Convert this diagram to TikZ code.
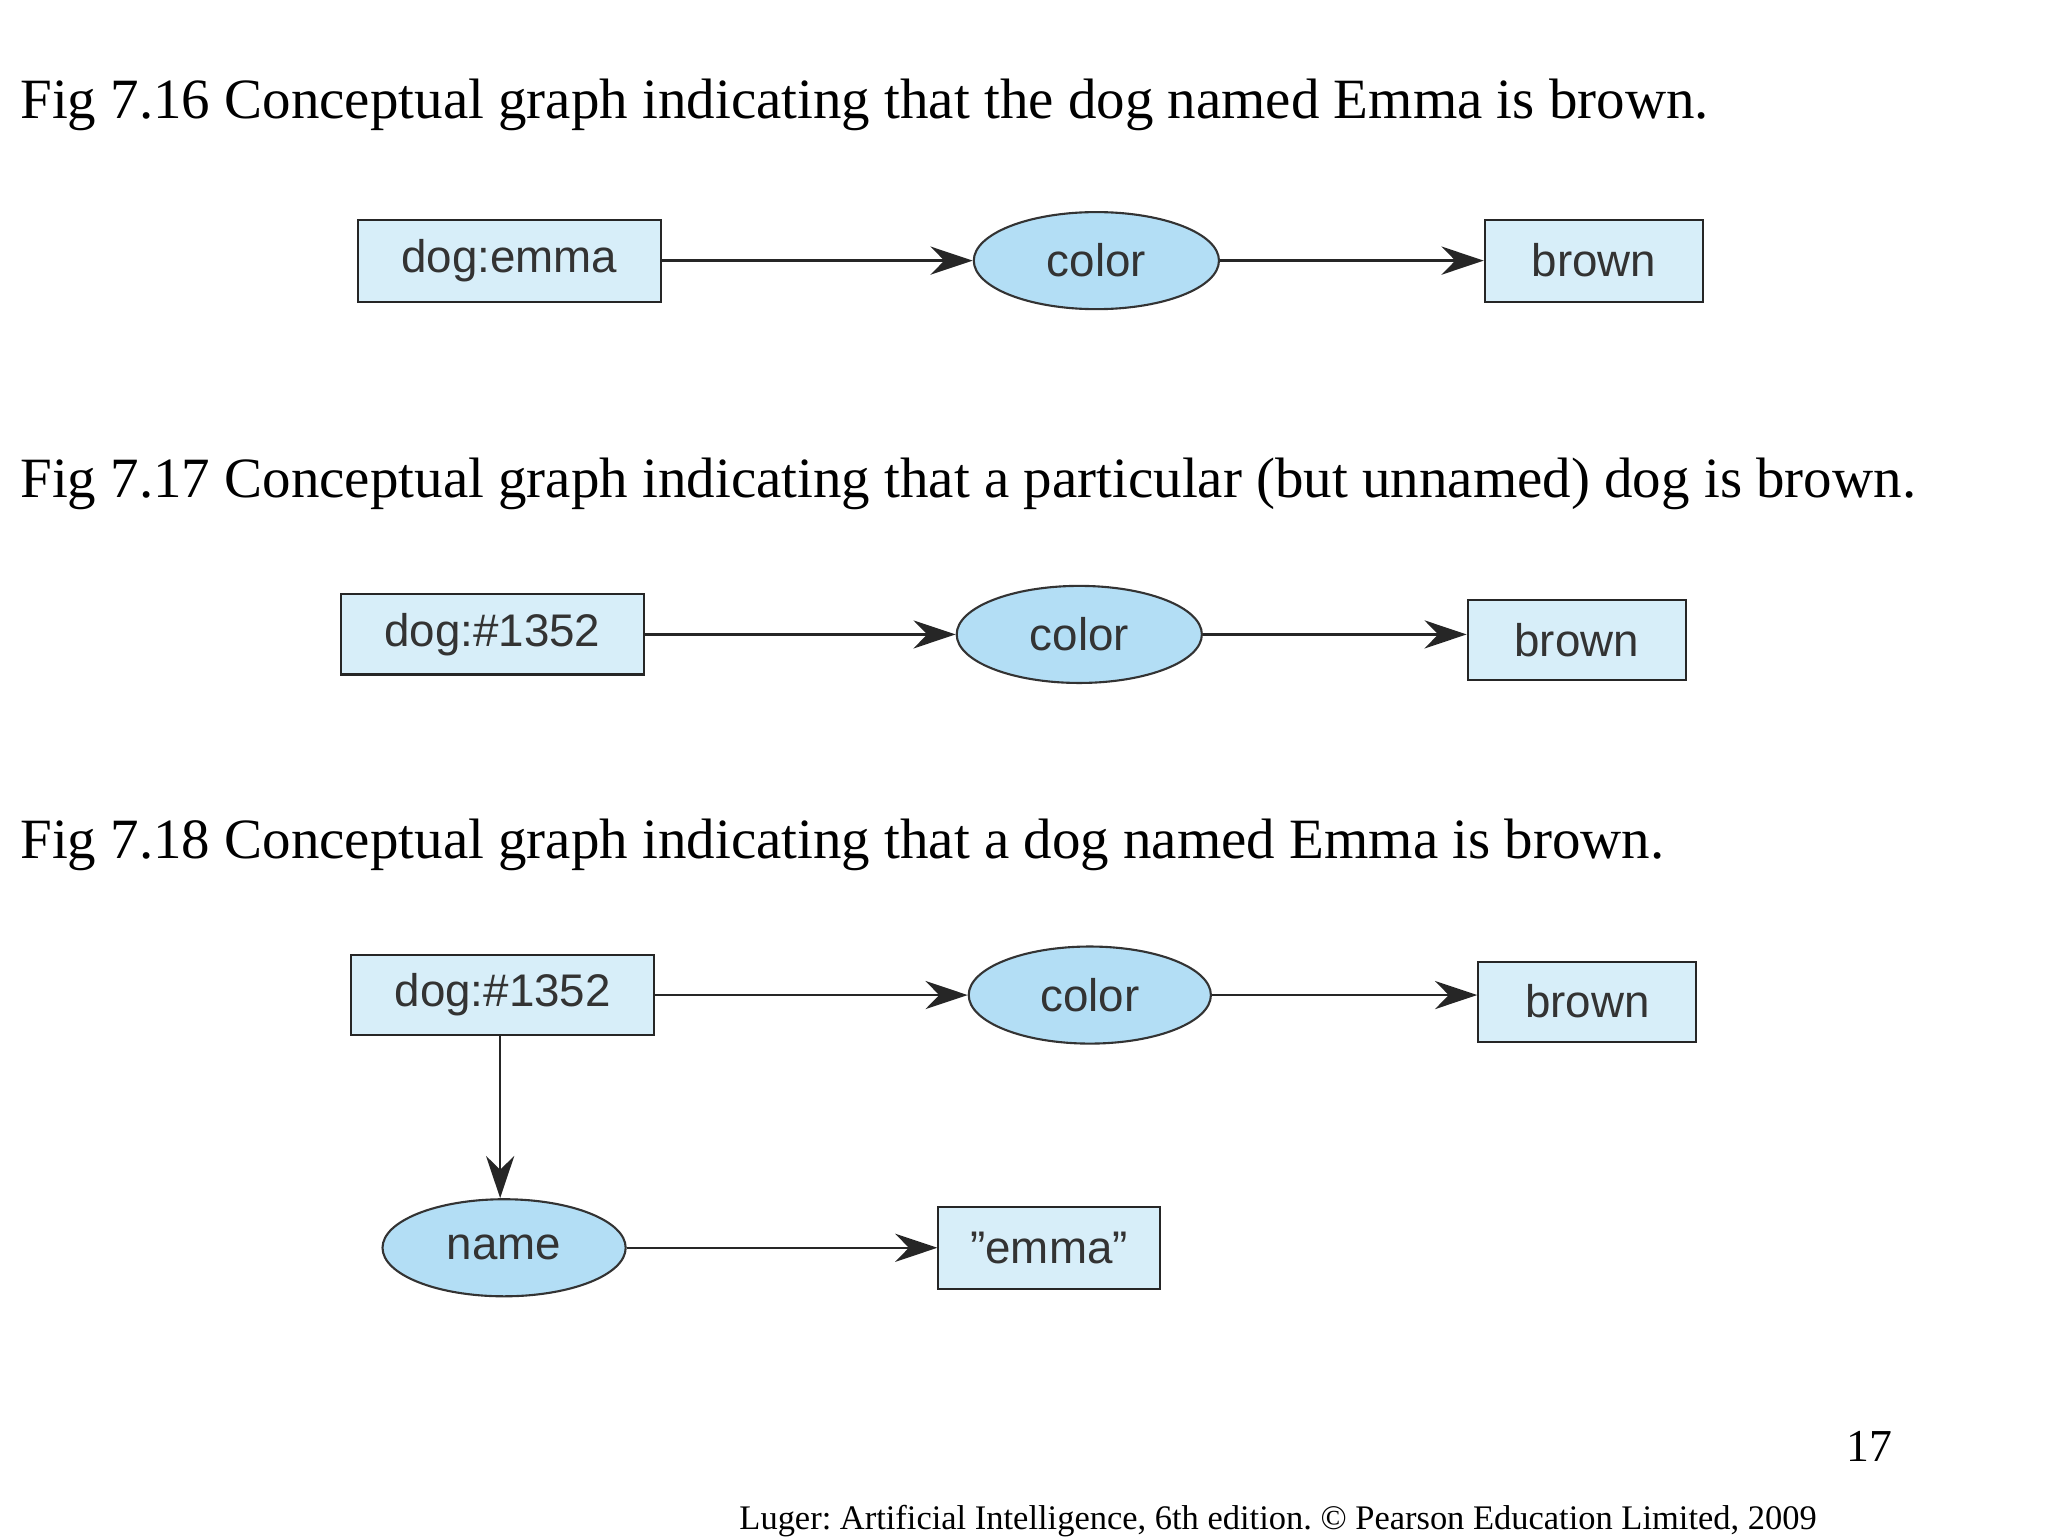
\documentclass[tikz,border=0pt]{standalone}
\usepackage{fontspec}
\setmainfont{Liberation Serif}
\setsansfont{Liberation Sans}
\usetikzlibrary{shapes.geometric,arrows.meta}
\definecolor{boxfill}{HTML}{D7EEF9}
\definecolor{ellfill}{HTML}{B3DEF5}
\definecolor{txt}{HTML}{333333}
\frenchspacing
\begin{document}
\begin{tikzpicture}[x=0.01316cm,y=-0.01316cm,
  concept/.style={draw=black!85,fill=boxfill,line width=0.6pt,inner sep=0,font=\sffamily\fontsize{13}{15}\selectfont,text=txt},
  rel/.style={ellipse,draw=black!80,fill=ellfill,line width=0.6pt,inner sep=0,font=\sffamily\fontsize{13}{15}\selectfont,text=txt},
  arr/.style={-{Stealth[length=12pt,width=8pt]},line width=0.7pt,black!85},
  title/.style={anchor=base west,inner sep=0,font=\fontsize{16.2}{19}\selectfont}]
\useasboundingbox (0,0) rectangle (1556,1168);
\node[title] (t1) at (15,90) {Fig 7.16 Conceptual graph indicating that the dog named Emma is brown.};
\node[concept,minimum width=3.03cm,minimum height=0.82cm] (a1) at (387,198) {dog:emma};
\node[rel,minimum width=2.45cm,minimum height=0.97cm] (c1) at (833,198) {color};
\node[concept,minimum width=2.18cm,minimum height=0.82cm] (b1) at (1211,198) {brown};
\draw[arr] (a1) -- (c1);
\draw[arr] (c1) -- (b1);

\node[title] (t2) at (15,378) {Fig 7.17 Conceptual graph indicating that a particular (but unnamed) dog is brown.};
\node[concept,minimum width=3.03cm,minimum height=0.8cm] (a2) at (374,482) {dog:\#1352};
\node[rel,minimum width=2.45cm,minimum height=0.97cm] (c2) at (820,482) {color};
\node[concept,minimum width=2.18cm,minimum height=0.8cm] (b2) at (1198,486) {brown};
\draw[arr] (a2) -- (c2);
\draw[arr] (c2.east) -- (c2.east -| b2.west);

\node[title] (t3) at (15,652) {Fig 7.18 Conceptual graph indicating that a dog named Emma is brown.};
\node[concept,minimum width=3.03cm,minimum height=0.8cm] (a3) at (382,756) {dog:\#1352};
\node[rel,minimum width=2.42cm,minimum height=0.97cm] (c3) at (828,756) {color};
\node[concept,minimum width=2.18cm,minimum height=0.8cm] (b3) at (1206,761) {brown};
\node[rel,minimum width=2.43cm,minimum height=0.97cm] (n3) at (383,948) {name};
\node[concept,minimum width=2.21cm,minimum height=0.82cm] (e3) at (797,948) {\char34 emma\char34};
\draw[arr] (a3) -- (c3);
\draw[arr] (c3.east) -- (c3.east -| b3.west);
\draw[arr] (a3.south -| 380,0) -- (n3.north -| 380,0);
\draw[arr] (n3) -- (e3);

\node[anchor=base,inner sep=0,font=\fontsize{13}{15}\selectfont] (pg) at (1420,1110) {17};
\node[anchor=base,inner sep=0,font=\fontsize{9.8}{12}\selectfont] (ft) at (971,1162) {Luger: Artificial Intelligence, 6th edition. © Pearson Education Limited, 2009};
\end{tikzpicture}
\end{document}
